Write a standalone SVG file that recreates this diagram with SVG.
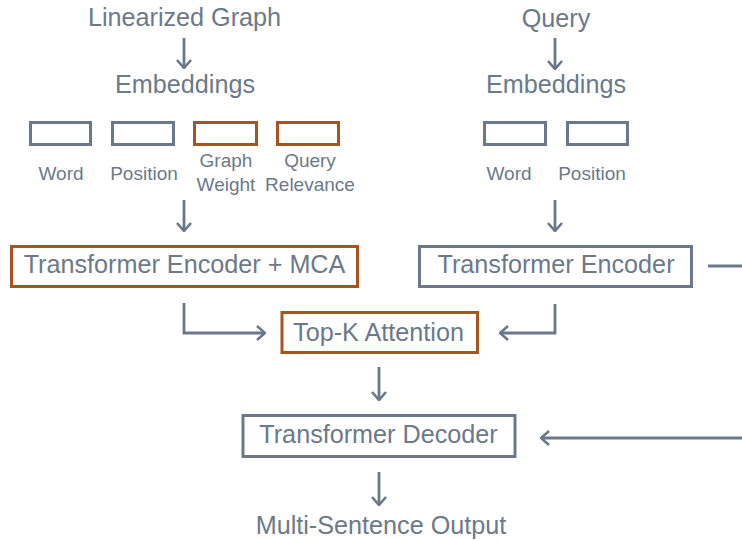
<svg xmlns="http://www.w3.org/2000/svg" width="742" height="541" viewBox="0 0 742 541">
<defs>
<style>
.t{font-family:"Liberation Sans",Arial,sans-serif;fill:#6b7989;text-anchor:middle}
.big{font-size:25.2px}
.sm{font-size:19px}
.g{fill:#fff;stroke:#6a7889;stroke-width:3}
.o{fill:#fff;stroke:#a9531f;stroke-width:3}
.c{fill:none;stroke:#6a7889;stroke-width:2.8;marker-end:url(#ah)}
.n{fill:none;stroke:#6a7889;stroke-width:2.8}
</style>
<marker id="ah" viewBox="0 0 10 16" refX="9" refY="8" markerWidth="10" markerHeight="16" markerUnits="userSpaceOnUse" orient="auto">
<path d="M1,1 L9,8 L1,15" fill="none" stroke="#6a7889" stroke-width="2.6"/>
</marker>
</defs>
<rect width="742" height="541" fill="#fff"/>

<g id="linearized-graph"><text class="t big" x="184.5" y="26">Linearized Graph</text></g>
<g id="left-embeddings">
<text class="t big" x="185" y="93">Embeddings</text>
<rect class="g" x="30.5" y="122.5" width="60" height="22"/>
<rect class="g" x="112.5" y="122.5" width="61" height="22"/>
<rect class="o" x="194.5" y="122.5" width="62" height="22"/>
<rect class="o" x="277.5" y="122.5" width="61" height="22"/>
<text class="t sm" x="61" y="180">Word</text>
<text class="t sm" x="144" y="180">Position</text>
<text class="t sm" x="226" y="167">Graph</text>
<text class="t sm" x="226" y="191">Weight</text>
<text class="t sm" x="310" y="167">Query</text>
<text class="t sm" x="310" y="191">Relevance</text>
</g>
<g id="encoder-mca">
<rect class="o" x="11.5" y="246.5" width="346" height="40"/>
<text class="t big" x="184.5" y="273">Transformer Encoder + MCA</text>
</g>

<g id="query"><text class="t big" x="556" y="27">Query</text></g>
<g id="right-embeddings">
<text class="t big" x="556" y="93">Embeddings</text>
<rect class="g" x="484.5" y="122.5" width="61" height="22"/>
<rect class="g" x="567.5" y="122.5" width="60" height="22"/>
<text class="t sm" x="509" y="180">Word</text>
<text class="t sm" x="592" y="180">Position</text>
</g>
<g id="encoder">
<rect class="g" x="419.5" y="246.5" width="272" height="40"/>
<text class="t big" x="556" y="273">Transformer Encoder</text>
</g>

<g id="topk">
<rect class="o" x="282" y="312.5" width="195.5" height="40"/>
<text class="t big" x="378.5" y="341">Top-K Attention</text>
</g>
<g id="decoder">
<rect class="g" x="243" y="415.5" width="272" height="41"/>
<text class="t big" x="378.5" y="443">Transformer Decoder</text>
</g>
<g id="output"><text class="t big" x="381" y="534">Multi-Sentence Output</text></g>

<g id="connectors">
<path class="c" d="M184,38 V68"/>
<path class="c" d="M555,38 V69"/>
<path class="c" d="M184,200 V231"/>
<path class="c" d="M555,200 V231"/>
<path class="c" d="M184,303 V333 H265"/>
<path class="c" d="M555,304 V333 H500"/>
<path class="c" d="M379,367 V400"/>
<path class="n" d="M708,266 H742"/>
<path class="c" d="M742,438 H541"/>
<path class="c" d="M379,472 V505"/>
</g>
</svg>
